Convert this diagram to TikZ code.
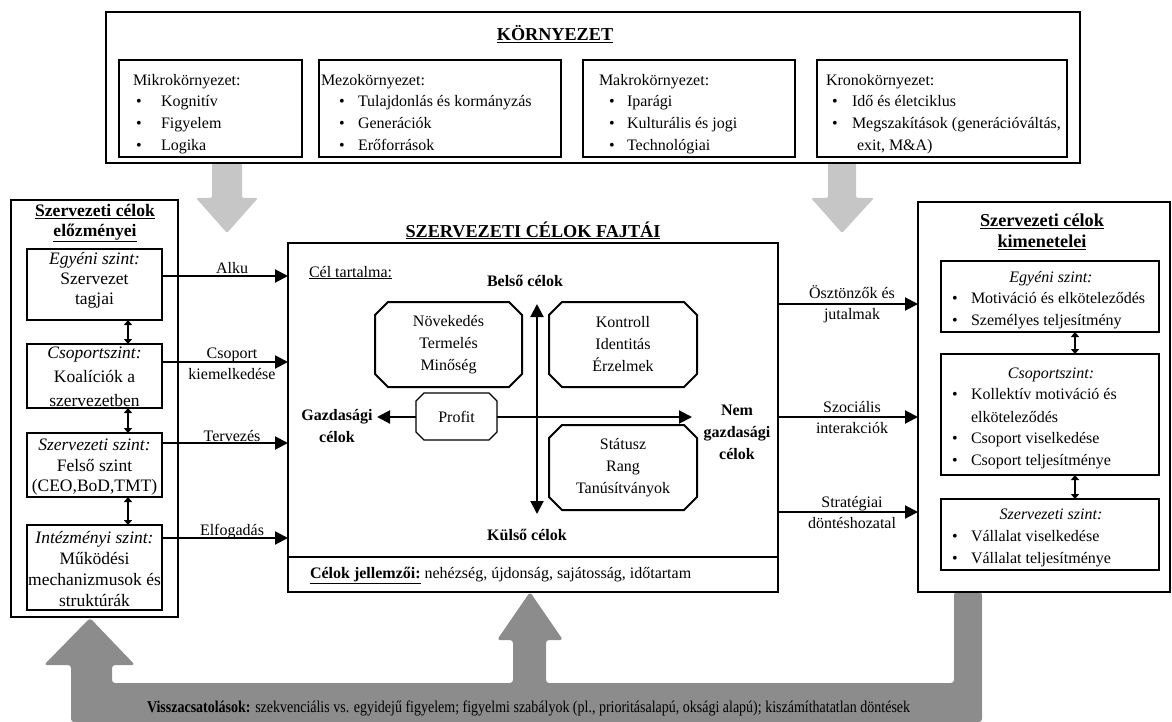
\documentclass[tikz,border=0pt]{standalone}
\usepackage{fontspec}
\setmainfont{Liberation Serif}
\usepackage{graphicx}
\usetikzlibrary{arrows.meta,shapes.misc,calc}
\definecolor{lightarr}{HTML}{C6C6C6}
\definecolor{darkarr}{HTML}{8C8C8C}
\begin{document}
\begin{tikzpicture}[x=1pt,y=-1pt,
  every node/.style={inner sep=0pt, outer sep=0pt, font=\fontsize{16}{21}\selectfont},
  lft/.style={anchor=base west},
  ctr/.style={anchor=base},
  ttl/.style={font=\bfseries\fontsize{18.2}{21}\selectfont, align=center},
  lcol/.style={font=\fontsize{17.5}{21}\selectfont, align=center},
  lbl/.style={align=center, font=\fontsize{16}{21}\selectfont},
  bld/.style={align=center, font=\bfseries\fontsize{16}{22}\selectfont},
  outerbox/.style={draw, line width=1.2pt},
  innerbox/.style={draw, line width=2pt},
  octbox/.style={draw, line width=2pt, chamfered rectangle, chamfered rectangle xsep=6.5pt, chamfered rectangle ysep=6.5pt, align=center, font=\fontsize{16}{22}\selectfont},
  arr/.style={line width=2pt, -{Triangle[length=13pt,width=13pt]}},
  bigdarr/.style={line width=2pt, {Triangle[length=13pt,width=13pt]}-{Triangle[length=13pt,width=13pt]}},
  smalldarr/.style={line width=1.6pt, {Triangle[length=5pt,width=8pt]}-{Triangle[length=5pt,width=8pt]}},
]
\useasboundingbox (0,0) rectangle (1172,722);

% ---- gray block arrows ----
\fill[lightarr, rounded corners=2pt] (212,163) -- (212,198) -- (196,198) -- (227,233) -- (258,198) -- (242,198) -- (242,163) -- cycle;
\fill[lightarr, rounded corners=2pt] (828,163) -- (828,198) -- (811,198) -- (842,233) -- (874,198) -- (856,198) -- (856,163) -- cycle;
\fill[darkarr, rounded corners=3pt] (71,722) -- (71,665) -- (44,665) -- (90,618) -- (135,665) -- (112,665) -- (112,683) -- (513,683) -- (513,640) -- (497,640) -- (530,592) -- (563,640) -- (546,640) -- (546,683) -- (954,683) -- (954,592) -- (982,592) -- (982,722) -- cycle;

% ---- environment ----
\node[outerbox, minimum width=974pt, minimum height=151pt] (env) at (593,87.5) {};
\node[ttl, ctr] (envT) at (555,41) {\underline{KÖRNYEZET}};

\node[innerbox, minimum width=183pt, minimum height=97pt] (mikro) at (210.5,108.5) {};
\node[innerbox, minimum width=242pt, minimum height=97pt] (mezo) at (440,108.5) {};
\node[innerbox, minimum width=212pt, minimum height=97pt] (makro) at (689,108.5) {};
\node[innerbox, minimum width=250pt, minimum height=97pt] (krono) at (942,108.5) {};

\node[lft] (mi0) at (133,86) {Mikrokörnyezet:};
\node[ctr] (mib1) at (139,107) {\textbullet};
\node[ctr] (mib2) at (139,129) {\textbullet};
\node[ctr] (mib3) at (139,151) {\textbullet};
\node[lft] (mi1) at (161,107) {Kognitív};
\node[lft] (mi2) at (161,129) {Figyelem};
\node[lft] (mi3) at (161,151) {Logika};

\node[lft] (me0) at (321,86) {Mezokörnyezet:};
\node[ctr] (meb1) at (342,107) {\textbullet};
\node[ctr] (meb2) at (342,129) {\textbullet};
\node[ctr] (meb3) at (342,151) {\textbullet};
\node[lft] (me1) at (358,107) {Tulajdonlás és kormányzás};
\node[lft] (me2) at (358,129) {Generációk};
\node[lft] (me3) at (358,151) {Erőforrások};

\node[lft] (ma0) at (599,86) {Makrokörnyezet:};
\node[ctr] (mab1) at (612,107) {\textbullet};
\node[ctr] (mab2) at (612,129) {\textbullet};
\node[ctr] (mab3) at (612,151) {\textbullet};
\node[lft] (ma1) at (627,107) {Iparági};
\node[lft] (ma2) at (627,129) {Kulturális és jogi};
\node[lft] (ma3) at (627,151) {Technológiai};

\node[lft] (kr0) at (826,86) {Kronokörnyezet:};
\node[ctr] (krb1) at (835,107) {\textbullet};
\node[ctr] (krb2) at (835,129) {\textbullet};
\node[lft] (kr1) at (852,107) {Idő és életciklus};
\node[lft] (kr2) at (852,129) {Megszakítások (generációváltás,};
\node[lft] (kr3) at (857,151) {exit, M\&A)};

% ---- left column ----
\node[outerbox, minimum width=167pt, minimum height=417pt] (lcolbox) at (94.5,408.5) {};
\node[ttl, font=\bfseries\fontsize{17.6}{20}\selectfont] (lT) at (95,223) {\underline{Szervezeti célok}\\\underline{előzményei}};
\node[innerbox, minimum width=135pt, minimum height=71pt] (lb1) at (94.5,284.5) {};
\node[innerbox, minimum width=135pt, minimum height=64pt] (lb2) at (94.5,376) {};
\node[innerbox, minimum width=135pt, minimum height=64pt] (lb3) at (94.5,465) {};
\node[innerbox, minimum width=135pt, minimum height=85pt] (lb4) at (94.5,567.5) {};
\node[lcol, font=\fontsize{17.5}{20}\selectfont] (lt1) at (94.5,280) {\textit{Egyéni szint:}\\Szervezet\\tagjai};
\node[lcol, font=\fontsize{17.5}{24}\selectfont] (lt2) at (94.5,377) {\textit{Csoportszint:}\\Koalíciók a\\szervezetben};
\node[lcol, font=\fontsize{17.5}{20.5}\selectfont] (lt3) at (94.5,467.5) {\textit{Szervezeti szint:}\\Felső szint\\(CEO,BoD,TMT)};
\node[lcol, font=\fontsize{17.5}{20.7}\selectfont] (lt4) at (94.5,569) {\textit{Intézményi szint:}\\Működési\\mechanizmusok és\\struktúrák};
\coordinate (ldx) at (128,0);
\draw[smalldarr] (lb1.south -| ldx) -- (lb2.north -| ldx);
\draw[smalldarr] (lb2.south -| ldx) -- (lb3.north -| ldx);
\draw[smalldarr] (lb3.south -| ldx) -- (lb4.north -| ldx);

% ---- center box ----
\node[outerbox, minimum width=490pt, minimum height=349pt] (cb) at (533,417.5) {};
\coordinate (sep) at (0,557);
\draw[line width=1.2pt] (cb.west |- sep) -- (cb.east |- sep);
\node[ttl, ctr] (cT) at (533,237) {\underline{SZERVEZETI CÉLOK FAJTÁI}};
\node[lft] (celt) at (309,277) {\underline{Cél tartalma:}};
\node[bld, ctr] (belso) at (525,286) {Belső célok};
\node[bld, ctr] (kulso) at (527,540) {Külső célok};
\node[bld] (gazd) at (337,426) {Gazdasági\\célok};
\node[bld] (nemg) at (737,432) {Nem\\gazdasági\\célok};
\coordinate (vt) at (537,304);
\coordinate (vb) at (537,514);
\coordinate (hl) at (377,417);
\coordinate (hr) at (692,417);
\draw[bigdarr] (vt) -- (vb);
\draw[bigdarr] (hl) -- (hr);
\node[octbox, fill=white, minimum width=147pt, minimum height=85pt] (o1) at (448.5,344.5) {Növekedés\\Termelés\\Minőség};
\node[octbox, fill=white, minimum width=148pt, minimum height=85pt] (o2) at (623,344.5) {Kontroll\\Identitás\\Érzelmek};
\node[octbox, fill=white, minimum width=148pt, minimum height=85pt] (o3) at (623,467.5) {Státusz\\Rang\\Tanúsítványok};
\node[octbox, fill=white, line width=1.2pt, chamfered rectangle xsep=4pt, chamfered rectangle ysep=4pt, minimum width=81pt, minimum height=47pt] (profit) at (456.5,416.5) {Profit};
\node[lft] (jell) at (310,578) {\textbf{\underline{Célok jellemzői:}} nehézség, újdonság, sajátosság, időtartam};

% ---- right column ----
\node[outerbox, minimum width=252pt, minimum height=390pt] (rcolbox) at (1044,397) {};
\node[ttl] (rT) at (1042,232) {\underline{Szervezeti célok}\\\underline{kimenetelei}};
\node[innerbox, minimum width=218pt, minimum height=71pt] (rb1) at (1050,296.5) {};
\node[innerbox, minimum width=218pt, minimum height=121pt] (rb2) at (1050,414.5) {};
\node[innerbox, minimum width=218pt, minimum height=71pt] (rb3) at (1050,534.5) {};
\node[ctr] (r1h) at (1051,282) {\textit{Egyéni szint:}};
\node[ctr] (r1b1) at (955,303) {\textbullet};
\node[ctr] (r1b2) at (955,325) {\textbullet};
\node[lft] (r1t1) at (971,303) {Motiváció és elköteleződés};
\node[lft] (r1t2) at (971,325) {Személyes teljesítmény};
\node[ctr] (r2h) at (1051,378) {\textit{Csoportszint:}};
\node[ctr] (r2b1) at (955,399) {\textbullet};
\node[ctr] (r2b2) at (955,443) {\textbullet};
\node[ctr] (r2b3) at (955,465) {\textbullet};
\node[lft] (r2t1) at (971,399) {Kollektív motiváció és};
\node[lft] (r2t1b) at (971,422) {elköteleződés};
\node[lft] (r2t2) at (971,443) {Csoport viselkedése};
\node[lft] (r2t3) at (971,465) {Csoport teljesítménye};
\node[ctr] (r3h) at (1051,519) {\textit{Szervezeti szint:}};
\node[ctr] (r3b1) at (955,541) {\textbullet};
\node[ctr] (r3b2) at (955,563) {\textbullet};
\node[lft] (r3t1) at (971,541) {Vállalat viselkedése};
\node[lft] (r3t2) at (971,563) {Vállalat teljesítménye};
\coordinate (rdx) at (1075,0);
\draw[smalldarr] (rb1.south -| rdx) -- (rb2.north -| rdx);
\draw[smalldarr] (rb2.south -| rdx) -- (rb3.north -| rdx);

% ---- left arrows ----
\coordinate (ya) at (0,276);
\coordinate (yb) at (0,362);
\coordinate (yc) at (0,443);
\coordinate (yd) at (0,538);
\draw[arr] (lb1.east |- ya) -- (cb.west |- ya);
\draw[arr] (lb2.east |- yb) -- (cb.west |- yb);
\draw[arr] (lb3.east |- yc) -- (cb.west |- yc);
\draw[arr] (lb4.east |- yd) -- (cb.west |- yd);
\node[ctr] (la) at (232,273) {Alku};
\node[lbl] (lbcs) at (232,364) {Csoport\\kiemelkedése};
\node[ctr] (lc) at (232,441) {Tervezés};
\node[ctr] (ld) at (232,535) {Elfogadás};

% ---- right arrows ----
\coordinate (ra) at (0,304);
\coordinate (rbb) at (0,417);
\coordinate (rc) at (0,512);
\draw[arr] (cb.east |- ra) -- (rcolbox.west |- ra);
\draw[arr] (cb.east |- rbb) -- (rcolbox.west |- rbb);
\draw[arr] (cb.east |- rc) -- (rcolbox.west |- rc);
\node[lbl] (rla) at (852,304) {Ösztönzők és\\jutalmak};
\node[lbl] (rlb) at (852,418) {Szociális\\interakciók};
\node[lbl] (rlc) at (852,513) {Stratégiai\\döntéshozatal};

% ---- feedback text ----
\node[lft] (fbt) at (147,712) {\resizebox{763pt}{\height}{\fontsize{16.5}{20}\selectfont\textbf{Visszacsatolások:} szekvenciális vs. egyidejű figyelem; figyelmi szabályok (pl., prioritásalapú, oksági alapú); kiszámíthatatlan döntések}};
\end{tikzpicture}
\end{document}
